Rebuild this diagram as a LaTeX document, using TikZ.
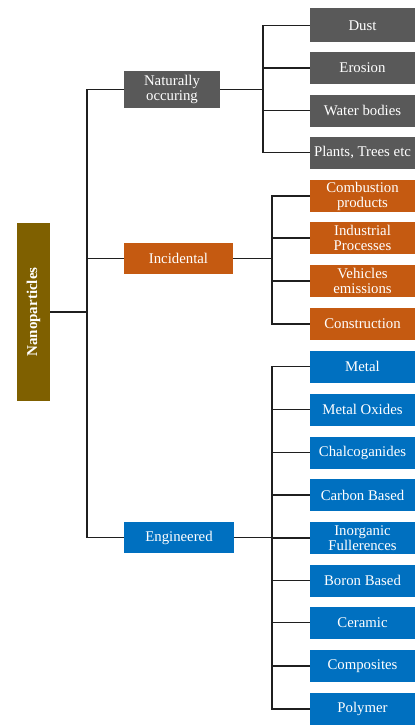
\documentclass[tikz,border=0pt]{standalone}
\usepackage{fontspec}
\setmainfont{Liberation Serif}
\definecolor{natgrey}{HTML}{595959}
\definecolor{incorange}{HTML}{C55A11}
\definecolor{engblue}{HTML}{0070C0}
\definecolor{nanobrown}{HTML}{7F6000}
\definecolor{linecol}{HTML}{1F1F1F}
\begin{document}
\begin{tikzpicture}[x=1pt,y=-1pt,
  box/.style={inner sep=0pt, align=center, text=white, font=\fontsize{14.8}{15}\selectfont},
  leaf/.style={box, minimum width=105pt, minimum height=32pt},
  natleaf/.style={leaf, fill=natgrey},
  incleaf/.style={leaf, fill=incorange},
  engleaf/.style={leaf, fill=engblue},
  conn/.style={draw=linecol, line width=1.8pt}]
\useasboundingbox (0,0) rectangle (415,725);
\fill[white] (0,0) rectangle (415,725);
% root
\node[box, fill=nanobrown, minimum width=33pt, minimum height=178pt] (nano) at (33.5,312) {};
\node[text=white, rotate=90, font=\fontsize{15}{15}\selectfont\bfseries] (nanotext) at (nano.center) {Nanoparticles};
% groups
\node[box, fill=natgrey, minimum width=96pt, minimum height=37pt] (nat) at (172,89.5) {Naturally\\occuring};
\node[box, fill=incorange, minimum width=109pt, minimum height=31pt] (inc) at (178.5,258.5) {Incidental};
\node[box, fill=engblue, minimum width=110pt, minimum height=31pt] (eng) at (179,537.5) {Engineered};
% natural leaves
\node[natleaf, minimum height=34pt] (dust) at (362.5,25.5) {Dust};
\node[natleaf] (erosion) at (362.5,68) {Erosion};
\node[natleaf] (water) at (362.5,110.5) {Water bodies};
\node[natleaf] (plants) at (362.5,152.5) {Plants, Trees etc};
% incidental leaves
\node[incleaf] (comb) at (362.5,196) {Combustion\\products};
\node[incleaf] (indus) at (362.5,238) {Industrial\\Processes};
\node[incleaf] (vehic) at (362.5,281) {Vehicles\\emissions};
\node[incleaf] (constr) at (362.5,324) {Construction};
% engineered leaves
\node[engleaf] (metal) at (362.5,366.5) {Metal};
\node[engleaf] (metox) at (362.5,409.5) {Metal Oxides};
\node[engleaf] (chalc) at (362.5,452.5) {Chalcoganides};
\node[engleaf] (carbon) at (362.5,495) {Carbon Based};
\node[engleaf] (inorg) at (362.5,538) {Inorganic\\Fullerences};
\node[engleaf] (boron) at (362.5,580.5) {Boron Based};
\node[engleaf] (ceramic) at (362.5,622.5) {Ceramic};
\node[engleaf] (compos) at (362.5,666) {Composites};
\node[engleaf] (polymer) at (362.5,709) {Polymer};
% trunk
\coordinate (trunk) at (87,312);
\draw[conn] (nano.east) -- (trunk);
\draw[conn] (trunk) |- (nat.west);
\draw[conn] (trunk) |- (inc.west);
\draw[conn] (trunk) |- (eng.west);
% natural bus
\coordinate (natbus) at (263,89.5);
\draw[conn] (nat.east) -- (natbus);
\foreach \n in {dust,erosion,water,plants} \draw[conn] (natbus) |- (\n.west);
% incidental bus
\coordinate (incbus) at (272,258.5);
\draw[conn] (inc.east) -- (incbus);
\foreach \n in {comb,indus,vehic,constr} \draw[conn] (incbus) |- (\n.west);
% engineered bus
\coordinate (engbus) at (272,537.5);
\draw[conn] (eng.east) -- (engbus);
\foreach \n in {metal,metox,chalc,carbon,inorg,boron,ceramic,compos,polymer} \draw[conn] (engbus) |- (\n.west);
\end{tikzpicture}
\end{document}
